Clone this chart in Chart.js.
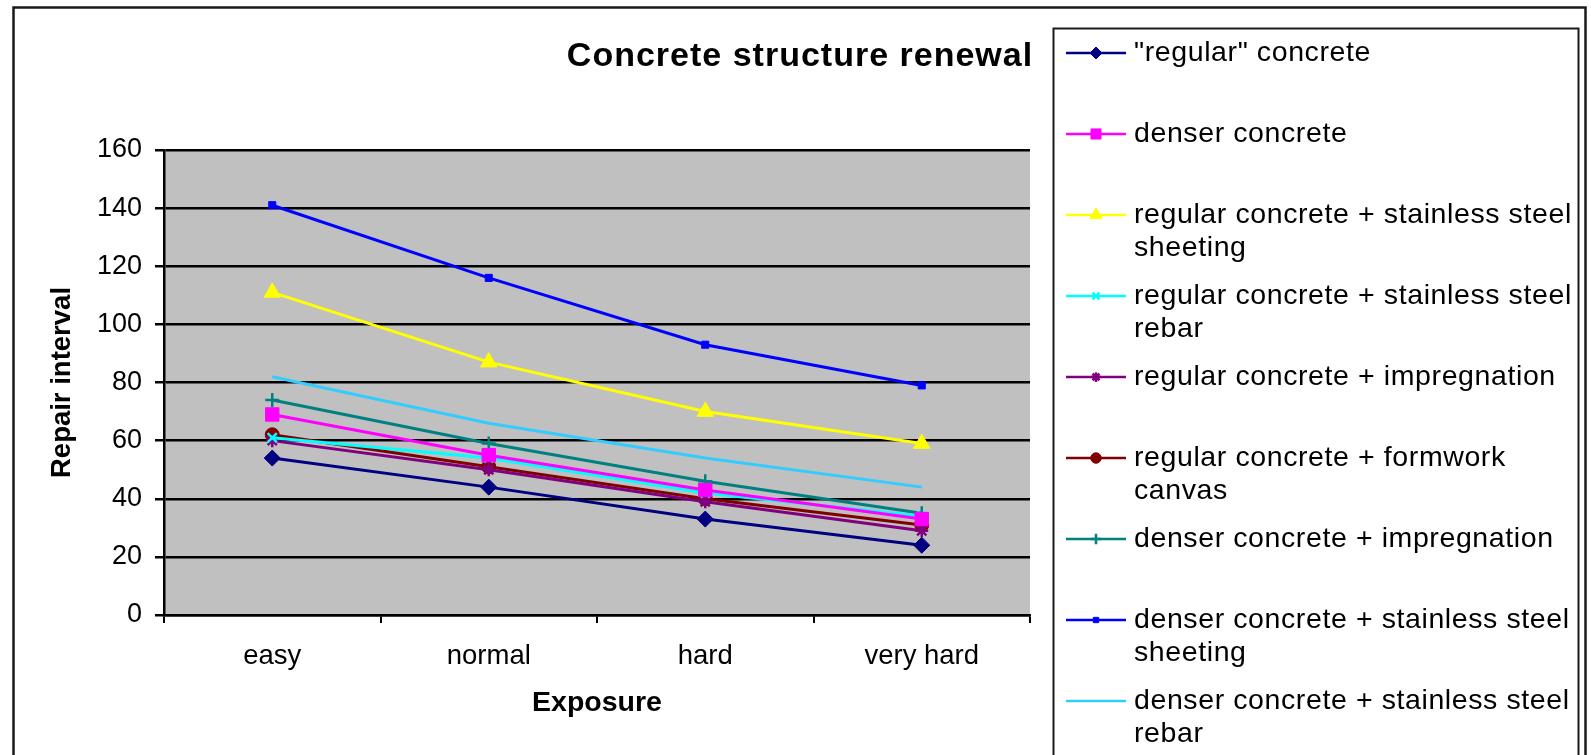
<!DOCTYPE html>
<html>
<head>
<meta charset="utf-8">
<title>Concrete structure renewal</title>
<script src="https://cdn.jsdelivr.net/npm/chart.js@4/dist/chart.umd.min.js"></script>
<style>
  html, body { margin: 0; padding: 0; background: #ffffff; overflow: hidden; }
  canvas { display: block; }
</style>
</head>
<body>
<canvas id="chart" width="1591" height="755"></canvas>
<script>
// Exposure classes on the x axis
const exposure = ['easy', 'normal', 'hard', 'very hard'];
// Repair interval axis ticks
const intervalTicks = [0, 20, 40, 60, 80, 100, 120, 140, 160];

// Repair interval per exposure class, one array per structure type
const regularConcrete        = [54, 44, 33, 24];
const denserConcrete         = [69, 55, 43, 33];
const regularSteelSheeting   = [111, 87, 70, 59];
const regularSteelRebar      = [61, 54, 42, 34];
const regularImpregnation    = [60, 50, 39, 29];
const regularFormworkCanvas  = [62, 51, 40, 31];
const denserImpregnation     = [74, 59, 46, 35];
const denserSteelSheeting    = [141, 116, 93, 79];
const denserSteelRebar       = [82, 66, 54, 44];

// Legend text, already split into the lines it is printed on
const seriesNames = [
  ['"regular" concrete'],
  ['denser concrete'],
  ['regular concrete + stainless steel', 'sheeting'],
  ['regular concrete + stainless steel', 'rebar'],
  ['regular concrete + impregnation'],
  ['regular concrete + formwork', 'canvas'],
  ['denser concrete + impregnation'],
  ['denser concrete + stainless steel', 'sheeting'],
  ['denser concrete + stainless steel', 'rebar']
];

const FONT = "'Liberation Sans', Arial, Helvetica, sans-serif";

function series(idx, data, color, style, radius, bw) {
  return {
    label: seriesNames[idx].join(' '),
    data: data,
    borderColor: color,
    backgroundColor: color,
    borderWidth: 3,
    pointStyle: style,
    pointRadius: radius,
    pointHoverRadius: radius,
    pointBackgroundColor: color,
    pointBorderColor: color,
    pointBorderWidth: bw,
    tension: 0,
    fill: false
  };
}

const datasets = [
  series(0, regularConcrete,       '#000080', 'rectRot',  8,   1),
  series(1, denserConcrete,        '#FF00FF', 'rect',     9.5, 1),
  series(2, regularSteelSheeting,  '#FFFF00', 'triangle', 9.5, 1),
  series(3, regularSteelRebar,     '#00FFFF', 'crossRot', 6.5, 2.5),
  series(4, regularImpregnation,   '#800080', 'star',     6.5, 2.5),
  series(5, regularFormworkCanvas, '#800000', 'circle',   7,   1),
  series(6, denserImpregnation,    '#008080', 'cross',    7,   2.5),
  series(7, denserSteelSheeting,   '#0000FF', 'rect',     5,   1),
  series(8, denserSteelRebar,      '#33CCFF', false,      0,   0)
];

// Grey plot area, outer frame, title and the boxed legend on the right
const decorations = {
  id: 'decorations',
  beforeDraw(chart) {
    const { ctx, chartArea: a } = chart;
    ctx.save();
    ctx.fillStyle = '#c0c0c0';
    ctx.fillRect(a.left, a.top, a.right - a.left, a.bottom - a.top);
    ctx.restore();
  },
  afterDraw(chart) {
    const ctx = chart.ctx;
    const spacing = v => { if ('letterSpacing' in ctx) ctx.letterSpacing = v; };
    ctx.save();

    // outer chart frame
    ctx.strokeStyle = '#1a1a1a';
    ctx.lineWidth = 2.5;
    ctx.strokeRect(13.5, 7.5, 1572, 820);

    // title
    ctx.fillStyle = '#000000';
    ctx.font = 'bold 34px ' + FONT;
    spacing('1px');
    ctx.textAlign = 'center';
    ctx.textBaseline = 'middle';
    ctx.fillText('Concrete structure renewal', 800, 57);

    // legend box
    ctx.lineWidth = 2;
    ctx.strokeStyle = '#1a1a1a';
    ctx.strokeRect(1053.5, 28.5, 525, 820);

    const x0 = 1066, x1 = 1126, xm = 1096, xt = 1134;
    const firstY = 53, step = 81, lineGap = 33.5;
    chart.data.datasets.forEach((ds, i) => {
      const y = firstY + step * i;
      ctx.strokeStyle = ds.borderColor;
      ctx.lineWidth = 2.5;
      ctx.beginPath();
      ctx.moveTo(x0, y);
      ctx.lineTo(x1, y);
      ctx.stroke();
      if (ds.pointStyle) {
        ctx.fillStyle = ds.pointBackgroundColor;
        ctx.strokeStyle = ds.pointBorderColor;
        ctx.lineWidth = ds.pointBorderWidth;
        Chart.helpers.drawPoint(ctx, {
          pointStyle: ds.pointStyle,
          radius: Math.max(3.5, ds.pointRadius * 0.75),
          rotation: 0,
          borderWidth: ds.pointBorderWidth
        }, xm, y);
      }
      ctx.fillStyle = '#000000';
      ctx.font = '28.5px ' + FONT;
      spacing('0.6px');
      ctx.textAlign = 'left';
      ctx.textBaseline = 'middle';
      seriesNames[i].forEach((line, k) => ctx.fillText(line, xt, y + k * lineGap));
    });
    spacing('0px');
    ctx.restore();
  }
};

new Chart(document.getElementById('chart'), {
  type: 'line',
  data: { labels: exposure, datasets: datasets },
  plugins: [decorations],
  options: {
    responsive: false,
    animation: false,
    events: [],
    layout: { padding: { top: 150, right: 561, bottom: 0, left: 0 } },
    plugins: {
      legend: { display: false },
      title: { display: false },
      tooltip: { enabled: false }
    },
    scales: {
      x: {
        type: 'category',
        offset: true,
        grid: {
          display: true,
          drawOnChartArea: false,
          drawTicks: true,
          tickLength: 8,
          offset: true,
          color: '#000000',
          lineWidth: 2
        },
        border: { display: true, color: '#000000', width: 2.5 },
        ticks: { color: '#000000', font: { family: FONT, size: 27.5 }, padding: 17, maxRotation: 0, autoSkip: false },
        title: {
          display: true,
          text: 'Exposure',
          color: '#000000',
          font: { family: FONT, size: 28.5, weight: 'bold' },
          padding: { top: 0, bottom: 35 }
        },
        afterFit(scale) { scale.height = 140; }
      },
      y: {
        min: intervalTicks[0],
        max: intervalTicks[intervalTicks.length - 1],
        afterBuildTicks(scale) { scale.ticks = intervalTicks.map(v => ({ value: v })); },
        grid: { color: '#000000', lineWidth: 2.5, drawTicks: true, tickLength: 9 },
        border: { display: true, color: '#000000', width: 2.5 },
        ticks: { color: '#000000', font: { family: FONT, size: 27 }, padding: 13 },
        title: {
          display: true,
          text: 'Repair interval',
          color: '#000000',
          font: { family: FONT, size: 27.5, weight: 'bold' },
          padding: { top: 46, bottom: 0 }
        },
        afterFit(scale) { scale.width = 164; }
      }
    }
  }
});
</script>
</body>
</html>
